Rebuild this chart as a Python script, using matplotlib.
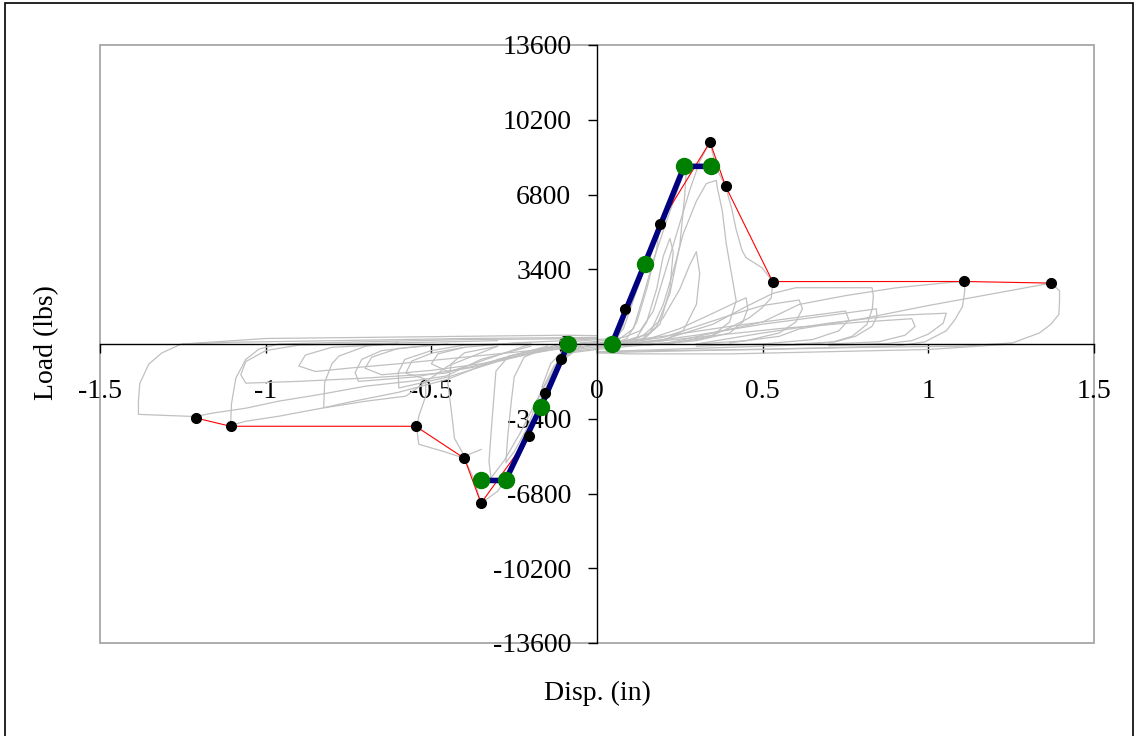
import matplotlib
matplotlib.use("Agg")
import matplotlib.pyplot as plt
from matplotlib.patches import Rectangle

plt.rcParams["font.family"] = ["Liberation Serif", "DejaVu Serif"]
plt.rcParams["font.size"] = 20

gray_traces = [
    [(-0.05, -150), (0.0, -50), (0.04, 100), (0.07, 700), (0.085, 1580), (0.08, 900), (0.06, 200),
     (0.02, 0), (-0.03, -80), (-0.08, -300), (-0.108, -650), (-0.09, -200), (-0.05, 20), (0.0, 60)],
    [(0.0, 30), (0.05, 150), (0.08, 700), (0.11, 2000), (0.15, 3700), (0.189, 5400), (0.18, 4300),
     (0.15, 2500), (0.12, 1000), (0.09, 250), (0.05, 0), (0.0, -120), (-0.06, -250), (-0.11, -800),
     (-0.14, -1800), (-0.17, -2700), (-0.165, -1900), (-0.14, -900), (-0.10, -250), (-0.05, 50), (0.0, 120)],
    [(0.0, 120), (0.07, 250), (0.11, 700), (0.14, 2200), (0.17, 3800), (0.21, 5600), (0.25, 7300),
     (0.27, 8100), (0.265, 6800), (0.25, 4500), (0.22, 2300), (0.18, 800), (0.13, 150), (0.06, -50),
     (0.0, -200), (-0.08, -350), (-0.13, -1000), (-0.17, -2200), (-0.21, -3800), (-0.25, -4900),
     (-0.275, -5400), (-0.27, -4300), (-0.26, -2800), (-0.25, -1500), (-0.22, -600), (-0.16, -200),
     (-0.08, 100), (0.0, 200)],
    [(0.0, 200), (0.08, 300), (0.13, 600), (0.17, 1500), (0.2, 3000), (0.24, 5000), (0.28, 7000),
     (0.31, 8300), (0.341, 9187), (0.36, 8000), (0.388, 7179), (0.408, 6070), (0.42, 5200),
     (0.438, 4245), (0.45, 3925), (0.498, 3470), (0.53, 2850), (0.529, 2555), (0.526, 2100),
     (0.498, 1643), (0.459, 1187), (0.399, 730), (0.329, 274), (0.227, 46), (0.1, -100), (0.0, -250),
     (-0.08, -400), (-0.12, -800), (-0.16, -2200), (-0.21, -4200), (-0.26, -5800), (-0.30, -6700),
     (-0.35, -7243), (-0.37, -6200), (-0.40, -5203), (-0.46, -4900), (-0.538, -4560), (-0.544, -3840),
     (-0.538, -3286), (-0.517, -2373), (-0.517, -1597), (-0.577, -1324), (-0.559, -776),
     (-0.498, -411), (-0.40, -150), (-0.25, 50), (-0.1, 150), (0.0, 250)],
    [(0.03, 50), (0.1, 150), (0.16, 500), (0.2, 1800), (0.23, 3300), (0.26, 5000), (0.3, 6500),
     (0.33, 7300), (0.36, 7440), (0.363, 7120), (0.378, 6070), (0.39, 4564), (0.408, 3012),
     (0.42, 1963), (0.40, 1000), (0.35, 400), (0.25, 100), (0.1, -50), (0.0, -150)],
    [(0.05, 0), (0.12, 300), (0.15, 1000), (0.18, 2500), (0.2, 4000), (0.22, 4800), (0.23, 4200),
     (0.22, 2500), (0.19, 900), (0.14, 200), (0.05, -50)],
    [(0.08, 100), (0.14, 400), (0.2, 1200), (0.25, 2500), (0.28, 3600), (0.3, 4200), (0.31, 3200),
     (0.3, 1800), (0.26, 600), (0.2, 150), (0.1, 0)],
    [(0.0, 0), (0.15, 200), (0.25, 700), (0.35, 1400), (0.42, 1900), (0.45, 2100), (0.455, 1600),
     (0.44, 1000), (0.40, 500), (0.3, 150), (0.15, -50)],
    [(0.05, 0), (0.2, 300), (0.3, 800), (0.4, 1300), (0.5, 1750), (0.61, 2000), (0.62, 1600),
     (0.60, 1000), (0.55, 500), (0.45, 150), (0.3, 0)],
    [(0.0, 0), (0.2, 350), (0.4, 800), (0.6, 1200), (0.75, 1500), (0.76, 1100), (0.73, 600),
     (0.65, 200), (0.5, 0), (0.3, -100)],
    [(0.1, 0), (0.3, 300), (0.55, 700), (0.8, 1000), (0.95, 1150), (0.96, 800), (0.93, 400),
     (0.85, 100), (0.7, 0)],
    [(0.0, -100), (0.2, 200), (0.35, 900), (0.45, 1700), (0.53, 2300), (0.6, 2560), (0.7, 2560),
     (0.83, 2560), (0.834, 2200), (0.831, 1600), (0.815, 900), (0.77, 350), (0.71, 80), (0.6, -50),
     (0.4, -150), (0.2, -250), (0.0, -350)],
    [(0.1, 0), (0.3, 400), (0.5, 900), (0.7, 1300), (0.843, 1600), (0.845, 1250), (0.83, 800),
     (0.78, 350), (0.72, 100), (0.6, 0)],
    [(0.3, 0), (0.5, 500), (0.7, 950), (0.9, 1300), (1.054, 1400), (1.045, 950), (1.0, 450),
     (0.95, 150), (0.88, 30), (0.7, -80)],
    [(0.2, 0), (0.35, 500), (0.5, 1000), (0.61, 1800), (0.75, 2200), (0.9, 2550), (1.05, 2780),
     (1.108, 2843), (1.11, 2420), (1.103, 1700), (1.08, 1100), (1.054, 600), (0.99, 100), (0.9, -100),
     (0.6, -200), (0.3, -300), (0.0, -400)],
    [(0.4, 50), (0.55, 350), (0.61, 685), (0.8, 1150), (1.0, 1750), (1.2, 2300), (1.371, 2770),
     (1.396, 2420), (1.396, 1950), (1.394, 1350), (1.37, 900), (1.335, 500), (1.254, 50), (1.1, -100),
     (0.8, -150), (0.5, -250), (0.2, -300), (0.0, -350)],
    [(1.25, 0), (1.0, -250), (0.7, -350), (0.4, -450), (0.1, -450), (0.0, -400)],
    [(-0.2, -100), (-0.35, -700), (-0.456, -1460), (-0.559, -1689), (-0.698, -1917), (-0.831, -2282),
     (-0.961, -2601), (-1.06, -2921), (-1.163, -3149), (-1.211, -3300), (-1.3, -3250), (-1.384, -3200),
     (-1.384, -2600), (-1.38, -1800), (-1.353, -920), (-1.314, -410), (-1.254, 0), (-1.1, 80),
     (-0.8, 150), (-0.4, 250), (0.0, 300)],
    [(-0.3, -100), (-0.45, -1000), (-0.577, -2373), (-0.698, -2601), (-0.831, -2921), (-0.961, -3286),
     (-1.06, -3514), (-1.106, -3700), (-1.103, -2700), (-1.09, -1550), (-1.06, -700), (-1.02, -230),
     (-0.96, 0), (-0.7, 100), (-0.4, 200), (0.0, 250)],
    [(-1.25, 0), (-1.0, 250), (-0.7, 300), (-0.4, 350), (-0.1, 400), (0.0, 380)],
    [(-0.2, 0), (-0.456, -1324), (-0.7, -1550), (-0.9, -1700), (-1.06, -1780), (-1.075, -1400),
     (-1.06, -800), (-1.0, -300), (-0.9, -50), (-0.6, 50)],
    [(-0.15, -100), (-0.3, -700), (-0.45, -1600), (-0.6, -2200), (-0.75, -2650), (-0.825, -2900),
     (-0.822, -1750), (-0.80, -900), (-0.779, -550), (-0.698, -100), (-0.6, 50), (-0.3, 150)],
    [(-0.1, -50), (-0.3, -800), (-0.45, -1500), (-0.598, -2000), (-0.6, -1300), (-0.58, -700),
     (-0.5, -300), (-0.4, -50), (-0.2, 50)],
    [(-0.1, -150), (-0.25, -600), (-0.4, -1100), (-0.55, -1500), (-0.72, -1700), (-0.73, -1300),
     (-0.71, -700), (-0.65, -300), (-0.5, -50)],
    [(-0.05, -100), (-0.2, -400), (-0.35, -900), (-0.5, -1200), (-0.65, -1400), (-0.7, -1100),
     (-0.68, -600), (-0.6, -200), (-0.45, 0)],
    [(-0.05, -100), (-0.12, -900), (-0.18, -2500), (-0.23, -4000), (-0.28, -5300), (-0.32, -6100),
     (-0.326, -5340), (-0.317, -3514), (-0.305, -1232), (-0.266, -548), (-0.175, -228), (-0.05, 0)],
    [(-0.35, -4800), (-0.40, -5100), (-0.43, -4300), (-0.44, -3000), (-0.45, -1800), (-0.44, -900),
     (-0.40, -400), (-0.3, -100)],
    [(-0.05, 0), (-0.2, -300), (-0.4, -600), (-0.6, -900), (-0.75, -1100), (-0.85, -1250),
     (-0.9, -1000), (-0.88, -500), (-0.8, -150), (-0.6, 0)],
    [(-0.1, -100), (-0.25, -500), (-0.35, -1000), (-0.45, -1250), (-0.5, -900), (-0.48, -450),
     (-0.4, -150)],
]

# envelope (peak points of each cycle)
env_pos_x = [0.085, 0.189, 0.341, 0.388, 0.530, 1.108, 1.371]
env_pos_y = [1584, 5445, 9187, 7179, 2839, 2843, 2770]
env_neg_x = [-1.211, -1.106, -0.547, -0.400, -0.350, -0.205, -0.158, -0.108]
env_neg_y = [-3364, -3742, -3742, -5203, -7243, -4199, -2223, -662]

# bilinear idealization
bil_pos_x = [0.045, 0.144, 0.263, 0.343]
bil_pos_y = [0, 3640, 8080, 8080]
bil_neg_x = [-0.350, -0.276, -0.170, -0.087]
bil_neg_y = [-6207, -6207, -2877, 0]

x_ticks = [-1.5, -1, -0.5, 0, 0.5, 1, 1.5]
x_labels = ["-1.5", "-1", "-0.5", "0", "0.5", "1", "1.5"]
y_ticks = [-13600, -10200, -6800, -3400, 0, 3400, 6800, 10200, 13600]

W, H = 1136, 736
fig = plt.figure(figsize=(W / 100, H / 100), dpi=100)
ax = fig.add_axes([100 / W, 1 - 643 / H, 994 / W, 598 / H])

for trace in gray_traces:
    xs = [p[0] for p in trace]
    ys = [p[1] for p in trace]
    ax.plot(xs, ys, color="#C0C0C0", lw=0.9, zorder=2)

for ex, ey in [(env_neg_x, env_neg_y), (env_pos_x, env_pos_y)]:
    ax.plot(ex, ey, color="#FF0000", lw=0.8, zorder=2.7)

for bx, by in [(bil_neg_x, bil_neg_y), (bil_pos_x, bil_pos_y)]:
    ax.plot(bx, by, color="#000080", lw=4, zorder=3)
    ax.plot(bx, by, ls="none", marker="o", markersize=11.5,
            markerfacecolor="#008000", markeredgecolor="#008000", zorder=4)

for ex, ey in [(env_neg_x, env_neg_y), (env_pos_x, env_pos_y)]:
    ax.plot(ex, ey, ls="none", marker="o", markersize=7,
            markerfacecolor="black", markeredgecolor="black", zorder=5)

ax.set_xlim(-1.5, 1.5)
ax.set_ylim(-13600, 13600)
ax.set_xticks(x_ticks)
ax.set_xticklabels(x_labels)
ax.set_yticks(y_ticks)
ax.set_yticklabels([str(v) for v in y_ticks])

ax.spines["left"].set_position(("data", 0))
ax.spines["bottom"].set_position(("data", 0))
ax.spines["top"].set_visible(False)
ax.spines["right"].set_visible(False)
for s in ("left", "bottom"):
    ax.spines[s].set_color("black")
    ax.spines[s].set_linewidth(1)
ax.tick_params(axis="both", direction="out", length=6.5, width=1, colors="black")
ax.tick_params(axis="x", pad=19)
ax.tick_params(axis="y", pad=12)

ax.add_patch(Rectangle((0, 0), 1, 1, transform=ax.transAxes, fill=False,
                       edgecolor="#A0A0A0", lw=1.2, clip_on=False, zorder=0))

fig.text(47 / W, 1 - 343 / H, "Load (lbs)", rotation=90, ha="center", va="center")
fig.text(597 / W, 1 - 693 / H, "Disp. (in)", ha="center", va="center")

fig.patches.append(Rectangle((5 / W, -0.01), 1128 / W, 1.01 - 2.5 / H, transform=fig.transFigure,
                             fill=False, edgecolor="black", lw=1.2))

fig.savefig("out.png", dpi=100)
